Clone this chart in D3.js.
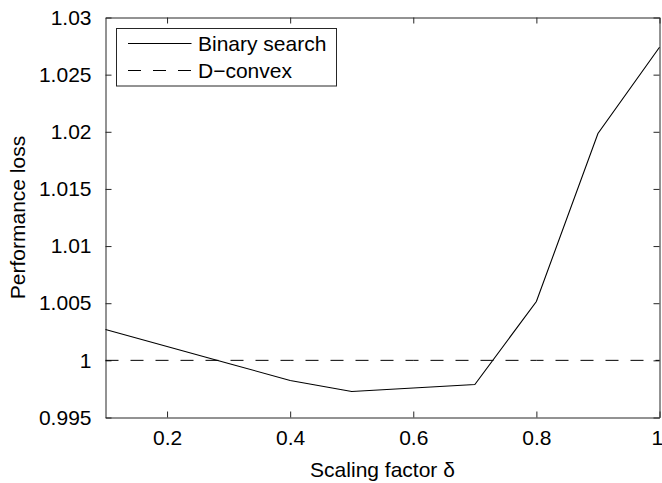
<!DOCTYPE html>
<html>
<head>
<meta charset="utf-8">
<script src="https://cdn.jsdelivr.net/npm/d3@7"></script>
<style>
  html, body { margin: 0; padding: 0; background: #fff; }
  svg { display: block; font-family: "Liberation Sans", Arial, Helvetica, sans-serif; }
</style>
</head>
<body>
<svg id="chart" width="662" height="483"></svg>
<script>
// Data
const scalingFactor = [0.1, 0.2, 0.3, 0.4, 0.5, 0.6, 0.7, 0.8, 0.9, 1.0];
const binarySearch = [1.0027, 1.00121, 0.99973, 0.99824, 0.99727, 0.99758, 0.99789, 1.00515, 1.01985, 1.0274];
const dConvex = [1, 1, 1, 1, 1, 1, 1, 1, 1, 1];
const xTicks = [0.2, 0.4, 0.6, 0.8, 1];
const yTicks = [0.995, 1, 1.005, 1.01, 1.015, 1.02, 1.025, 1.03];
const seriesNames = ["Binary search", "D\u2212convex"];

const svg = d3.select("#chart");
const mLeft = 105.5, mRight = 659.5, mTop = 17.5, mBottom = 417.5;

const x = d3.scaleLinear().domain([0.1, 1]).range([mLeft, mRight]);
const y = d3.scaleLinear().domain([0.995, 1.03]).range([mBottom, mTop]);

const axisColor = "#262626";
const fontSize = 21;
const dash = "13,12";

const fmtY = d => String(+d.toFixed(3));
const fmtX = d => String(+d.toFixed(1));

const gx = svg.append("g").attr("transform", `translate(0,${mBottom})`)
  .call(d3.axisBottom(x).tickValues(xTicks).tickSizeInner(-6).tickSizeOuter(0).tickPadding(13).tickFormat(fmtX));
const gxTop = svg.append("g").attr("transform", `translate(0,${mTop})`)
  .call(d3.axisTop(x).tickValues(xTicks).tickSizeInner(-6).tickSizeOuter(0).tickFormat(""));
const gy = svg.append("g").attr("transform", `translate(${mLeft},0)`)
  .call(d3.axisLeft(y).tickValues(yTicks).tickSizeInner(-6).tickSizeOuter(0).tickPadding(14).tickFormat(fmtY));
const gyRight = svg.append("g").attr("transform", `translate(${mRight},0)`)
  .call(d3.axisRight(y).tickValues(yTicks).tickSizeInner(-6).tickSizeOuter(0).tickFormat(""));

[gx, gxTop, gy, gyRight].forEach(g => {
  g.select(".domain").attr("stroke", axisColor).attr("stroke-width", 1);
  g.selectAll(".tick line").attr("stroke", axisColor).attr("stroke-width", 1);
  g.selectAll(".tick text").attr("fill", "#000").style("font-size", fontSize + "px")
    .style("font-family", '"Liberation Sans", Arial, sans-serif');
});
// keep the last x label inside the window edge
gx.selectAll(".tick text").filter(d => d === 1).attr("text-anchor", "end").attr("dx", "0.15em");

// Lines
const lineGen = d3.line().x((d, i) => x(scalingFactor[i])).y(d => y(d));
svg.append("path").datum(dConvex).attr("d", lineGen)
  .attr("fill", "none").attr("stroke", "#000").attr("stroke-width", 1)
  .attr("stroke-dasharray", dash);
svg.append("path").datum(binarySearch).attr("d", lineGen)
  .attr("fill", "none").attr("stroke", "#000").attr("stroke-width", 1.1);

// Legend
const lg = svg.append("g");
lg.append("rect").attr("x", 116.5).attr("y", 28.5).attr("width", 220).attr("height", 57.5)
  .attr("fill", "#fff").attr("stroke", axisColor).attr("stroke-width", 1);
const rows = [{ name: seriesNames[0], dash: null, yy: 43.5 }, { name: seriesNames[1], dash: dash, yy: 70.5 }];
rows.forEach(r => {
  lg.append("line").attr("x1", 128).attr("x2", 191.5).attr("y1", r.yy).attr("y2", r.yy)
    .attr("stroke", "#000").attr("stroke-width", 1).attr("stroke-dasharray", r.dash);
  lg.append("text").attr("x", 198).attr("y", r.yy).attr("dy", "0.35em")
    .style("font-size", fontSize + "px").attr("fill", "#000").text(r.name);
});

// Axis labels
svg.append("text").attr("x", (mLeft + mRight) / 2).attr("y", 477).attr("text-anchor", "middle")
  .style("font-size", fontSize + "px").attr("fill", "#000").text("Scaling factor \u03b4");
svg.append("text").attr("transform", `translate(25,${(mTop + mBottom) / 2}) rotate(-90)`)
  .attr("text-anchor", "middle").style("font-size", fontSize + "px").attr("fill", "#000")
  .text("Performance loss");
</script>
</body>
</html>
